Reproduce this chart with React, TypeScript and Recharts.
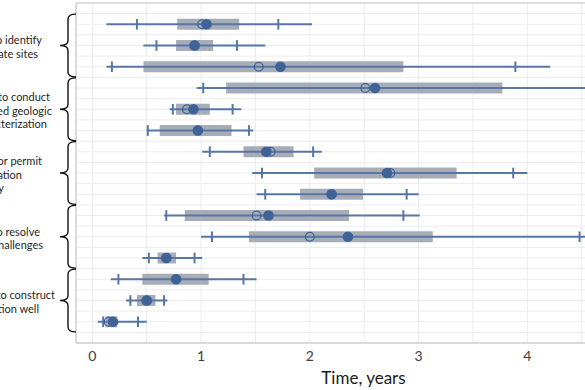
import {
  ScatterChart,
  Scatter,
  XAxis,
  YAxis,
  CartesianGrid,
  ReferenceArea,
  ReferenceLine,
} from 'recharts';

// one row per bar, top to bottom
const rows = [1, 2, 3, 4, 5, 6, 7, 8, 9, 10, 11, 12, 13, 14, 15];
const minVals = [0.13, 0.47, 0.13, 0.96, 0.71, 0.5, 1.01, 1.47, 1.51, 0.66, 1.0, 0.46, 0.17, 0.31, 0.05];
const p10Vals = [0.41, 0.59, 0.18, 1.02, 0.74, 0.51, 1.08, 1.56, 1.59, 0.68, 1.1, 0.52, 0.24, 0.35, 0.1];
const q1Vals = [0.78, 0.77, 0.47, 1.23, 0.77, 0.62, 1.39, 2.04, 1.91, 0.85, 1.44, 0.6, 0.46, 0.41, 0.12];
const medianVals = [1.01, 0.94, 1.53, 2.51, 0.87, 0.97, 1.64, 2.74, 2.2, 1.51, 2.0, 0.68, 0.77, 0.5, 0.15];
const meanVals = [1.05, 0.94, 1.73, 2.6, 0.93, 0.97, 1.6, 2.71, 2.2, 1.62, 2.35, 0.68, 0.77, 0.5, 0.19];
const q3Vals = [1.35, 1.11, 2.86, 3.77, 1.08, 1.28, 1.85, 3.35, 2.49, 2.36, 3.13, 0.77, 1.07, 0.58, 0.23];
const p90Vals = [1.71, 1.33, 3.89, 4.62, 1.29, 1.44, 2.03, 3.87, 2.89, 2.86, 4.48, 0.94, 1.39, 0.66, 0.42];
const maxVals = [2.02, 1.59, 4.21, 4.9, 1.37, 1.48, 2.11, 4.0, 3.0, 3.01, 4.7, 1.01, 1.51, 0.69, 0.5];

// groups of three rows, labelled at the middle row
const groupCenters = [2, 5, 8, 11, 14];
const groupLabels = [
  ['Time to identify', 'candidate sites'],
  ['Time to conduct', 'detailed geologic', 'characterization'],
  ['Time for permit', 'application', 'agency'],
  ['Time to resolve', 'legal challenges'],
  ['Time to construct', 'injection well'],
];
// where each label line ends (the page cuts the start off, as in the source)
const labelEnds = [
  [42, 38],
  [50, 52, 47],
  [42, 22, 4],
  [40, 43],
  [55, 39],
];

const xTicks = [0, 1, 2, 3, 4];
const xGrid = [0, 0.5, 1, 1.5, 2, 2.5, 3, 3.5, 4, 4.5];
const yGrid = Array.from({ length: 33 }, (_, i) => i * 0.5);

const X_MIN = -0.15;
const X_MAX = 4.53;
const PLOT_TOP = 3;
const PLOT_H = 340;
const ROW_UNIT = PLOT_H / 16;

const LINE = '#5676a6';
const DOT = '#3f6397';
const BOX = '#a7acb6';
const FONT = 'Lato, "Open Sans", sans-serif';

const medianData = rows.map((r, i) => ({ x: medianVals[i], y: r }));
const meanData = rows.map((r, i) => ({ x: meanVals[i], y: r }));

// brace + group label drawn in place of the y tick
function GroupTick(props: any) {
  const { y, payload } = props;
  const idx = groupCenters.indexOf(payload.value);
  const lines = groupLabels[idx] || [];
  const ends = labelEnds[idx] || [];
  const h = ROW_UNIT * 1.5 - 0.5;
  const top = y - h;
  const bot = y + h;
  const d = `M76,${top} Q68,${top} 68,${top + 5} L68,${y - 5} Q68,${y} 60,${y} Q68,${y} 68,${y + 5} L68,${bot - 5} Q68,${bot} 76,${bot}`;
  const lh = 13.5;
  const y0 = y + 1 - ((lines.length - 1) * lh) / 2;
  return (
    <g>
      <path d={d} fill="none" stroke="#111" strokeWidth={1.4} />
      {lines.map((t, i) => (
        <text
          key={t}
          x={ends[i]}
          y={y0 + i * lh}
          textAnchor="end"
          dominantBaseline="central"
          fontFamily={FONT}
          fontSize={11}
          fill="#1f1f1f"
        >
          {t}
        </text>
      ))}
    </g>
  );
}

function AxisTitle(props: any) {
  const vb = props.viewBox || { x: 76, width: 509, y: 343, height: 47 };
  return (
    <text
      x={vb.x + vb.width / 2 + 33}
      y={384}
      textAnchor="middle"
      fontFamily={FONT}
      fontSize={17}
      fill="#1a1a1a"
    >
      Time, years
    </text>
  );
}

export default function App() {
  return (
    <div
      style={{
        position: 'absolute',
        left: 0,
        top: 0,
        width: 585,
        height: 390,
        overflow: 'hidden',
        background: '#fff',
      }}
    >
      <ScatterChart
        width={585}
        height={390}
        margin={{ top: PLOT_TOP, right: 0, bottom: 0, left: 0 }}
      >
        <CartesianGrid
          stroke="#ececec"
          strokeWidth={1}
          horizontalValues={yGrid}
          verticalValues={xGrid}
        />
        <XAxis
          type="number"
          dataKey="x"
          domain={[X_MIN, X_MAX]}
          allowDataOverflow
          ticks={xTicks}
          height={47}
          tickLine={false}
          axisLine={false}
          tick={{ fontFamily: FONT, fontSize: 14, fill: '#404040' }}
          label={<AxisTitle />}
        />
        <YAxis
          type="number"
          dataKey="y"
          domain={[0, 16]}
          reversed
          allowDataOverflow
          ticks={groupCenters}
          interval={0}
          width={76}
          tickLine={false}
          axisLine={false}
          tick={<GroupTick />}
        />

        {/* plot frame */}
        <ReferenceLine x={X_MIN} stroke="#d9d9d9" strokeWidth={2} ifOverflow="visible" />
        <ReferenceLine y={0} stroke="#dedede" strokeWidth={2} ifOverflow="visible" />
        <ReferenceLine y={16} stroke="#d9d9d9" strokeWidth={2} ifOverflow="visible" />

        {rows.map((r, i) => (
          <ReferenceArea
            key={`box-${r}`}
            x1={q1Vals[i]}
            x2={q3Vals[i]}
            y1={r - 0.26}
            y2={r + 0.26}
            fill={BOX}
            fillOpacity={1}
            stroke="none"
            ifOverflow="hidden"
          />
        ))}
        {rows.map((r, i) => (
          <ReferenceLine
            key={`wh-${r}`}
            segment={[
              { x: minVals[i], y: r },
              { x: maxVals[i], y: r },
            ]}
            stroke={LINE}
            strokeWidth={2}
            ifOverflow="hidden"
          />
        ))}
        {rows.map((r, i) => (
          <ReferenceLine
            key={`p10-${r}`}
            segment={[
              { x: p10Vals[i], y: r - 0.25 },
              { x: p10Vals[i], y: r + 0.25 },
            ]}
            stroke={LINE}
            strokeWidth={2}
            ifOverflow="hidden"
          />
        ))}
        {rows.map((r, i) => (
          <ReferenceLine
            key={`p90-${r}`}
            segment={[
              { x: p90Vals[i], y: r - 0.25 },
              { x: p90Vals[i], y: r + 0.25 },
            ]}
            stroke={LINE}
            strokeWidth={2}
            ifOverflow="hidden"
          />
        ))}

        <Scatter
          name="Median"
          data={medianData}
          isAnimationActive={false}
          shape={(p: any) => (
            <circle cx={p.cx} cy={p.cy} r={4.4} fill="none" stroke={DOT} strokeWidth={1.3} />
          )}
        />
        <Scatter
          name="Mean"
          data={meanData}
          isAnimationActive={false}
          shape={(p: any) => <circle cx={p.cx} cy={p.cy} r={5.3} fill={DOT} />}
        />
      </ScatterChart>
    </div>
  );
}
